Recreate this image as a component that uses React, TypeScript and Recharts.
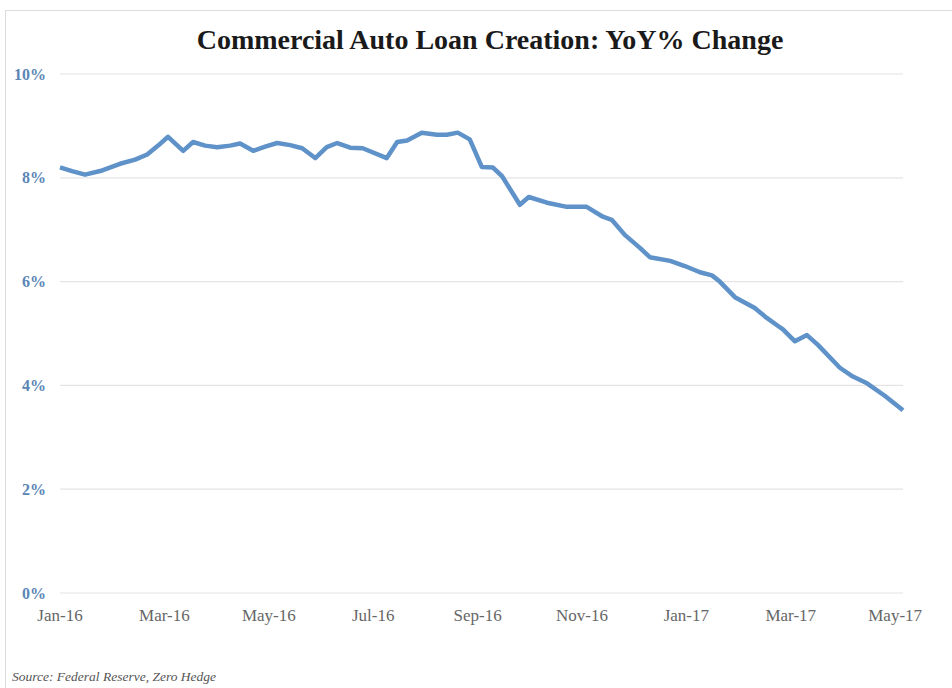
import React from "react";
import { LineChart, Line, XAxis, YAxis, CartesianGrid } from "recharts";

// x position in months since Jan-16 (0 = Jan-16, 16 = May-17)
const monthOffsets = [
  0.0, 0.23, 0.48, 0.77, 1.15, 1.44, 1.67, 1.88, 2.07, 2.36, 2.55, 2.78, 3.01, 3.26, 3.45, 3.7,
  3.93, 4.16, 4.41, 4.64, 4.89, 5.11, 5.31, 5.56, 5.8, 6.26, 6.46, 6.65, 6.93, 7.22, 7.41, 7.62,
  7.85, 8.08, 8.29, 8.47, 8.81, 8.98, 9.33, 9.71, 10.09, 10.4, 10.57, 10.82, 11.11, 11.3, 11.69,
  11.97, 12.26, 12.49, 12.64, 12.93, 13.31, 13.54, 13.75, 13.85, 14.08, 14.31, 14.52, 14.94,
  15.19, 15.46, 15.8, 16.15,
];

// YoY % change
const yoyValues = [
  8.2, 8.13, 8.06, 8.13, 8.27, 8.35, 8.45, 8.62, 8.79, 8.52, 8.69, 8.62, 8.59, 8.62, 8.66, 8.52,
  8.6, 8.67, 8.63, 8.57, 8.38, 8.59, 8.67, 8.58, 8.57, 8.38, 8.69, 8.72, 8.87, 8.83, 8.83, 8.87,
  8.74, 8.21, 8.2, 8.03, 7.48, 7.63, 7.52, 7.44, 7.44, 7.25, 7.19, 6.9, 6.65, 6.47, 6.4, 6.3,
  6.18, 6.12, 6.0, 5.7, 5.49, 5.3, 5.15, 5.08, 4.85, 4.97, 4.78, 4.34, 4.17, 4.04, 3.8, 3.52,
];

const xTickPositions = [0, 2, 4, 6, 8, 10, 12, 14, 16];
const xTickLabels = ["Jan-16", "Mar-16", "May-16", "Jul-16", "Sep-16", "Nov-16", "Jan-17", "Mar-17", "May-17"];
const yTicks = [0, 2, 4, 6, 8, 10];

const data = monthOffsets.map((m, i) => ({ m, v: yoyValues[i] }));

const serif = '"Liberation Serif", "Times New Roman", serif';

export default function App() {
  return (
    <div style={{ position: "absolute", left: 0, top: 0, width: 952, height: 688, background: "#fff", overflow: "hidden" }}>
      <div
        style={{
          position: "absolute",
          left: 5,
          top: 10,
          right: 0,
          bottom: 0,
          borderTop: "1px solid #dcdcdc",
          borderLeft: "1px solid #dcdcdc",
        }}
      />
      <div
        style={{
          position: "absolute",
          left: 0,
          width: 980,
          top: 24,
          textAlign: "center",
          fontFamily: serif,
          fontWeight: "bold",
          fontSize: 28,
          color: "#1a1a1a",
          letterSpacing: 0,
        }}
      >
        Commercial Auto Loan Creation: YoY% Change
      </div>
      <LineChart
        width={952}
        height={688}
        data={data}
        margin={{ top: 74, right: 49, bottom: 0, left: 0 }}
        style={{ position: "absolute", left: 0, top: 0 }}
      >
        <CartesianGrid vertical={false} stroke="#e4e4e4" strokeWidth={1.2} />
        <XAxis
          dataKey="m"
          type="number"
          domain={[0, 16.15]}
          ticks={xTickPositions}
          tickFormatter={(v: number) => xTickLabels[xTickPositions.indexOf(v)] ?? ""}
          axisLine={false}
          tickLine={false}
          tickMargin={10}
          height={95}
          interval={0}
          tick={{ fill: "#666", fontSize: 17, fontFamily: serif }}
        />
        <YAxis
          domain={[0, 10]}
          ticks={yTicks}
          tickFormatter={(v: number) => `${v}%`}
          axisLine={false}
          tickLine={false}
          tickMargin={8}
          width={60}
          tick={{ fill: "#5a86b5", fontSize: 16, fontFamily: serif, fontWeight: "bold" }}
        />
        <Line
          type="linear"
          dataKey="v"
          stroke="#5f92c8"
          strokeWidth={4.5}
          dot={false}
          isAnimationActive={false}
          strokeLinejoin="round"
        />
      </LineChart>
      <div
        style={{
          position: "absolute",
          left: 12,
          top: 669,
          fontFamily: serif,
          fontStyle: "italic",
          fontSize: 13.5,
          color: "#555",
        }}
      >
        Source: Federal Reserve, Zero Hedge
      </div>
    </div>
  );
}
